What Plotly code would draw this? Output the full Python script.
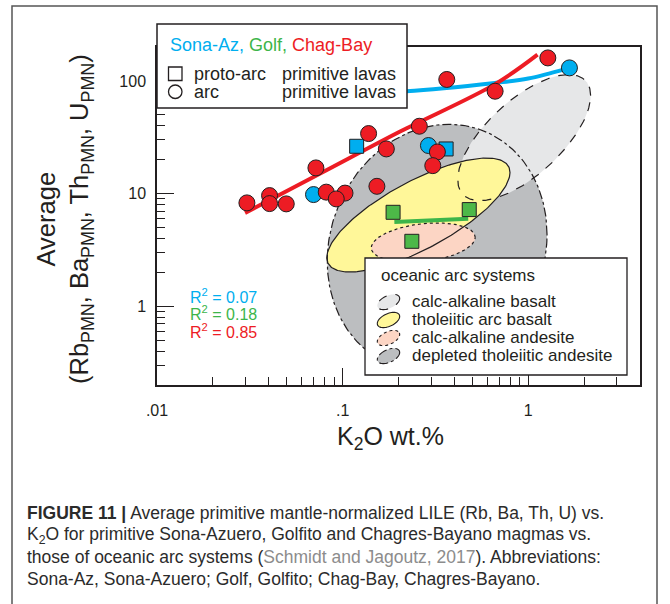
import numpy as np
import plotly.graph_objects as go

# ---------------- data ----------------
# Chagres-Bayano arc primitive lavas: K2O (wt.%) and average PMN LILE
chag_k2o = [1.275, 0.364, 0.663, 0.259, 0.138, 0.172, 0.324, 0.306, 0.0718,
            0.153, 0.0816, 0.103, 0.0924, 0.0404, 0.0404, 0.0305, 0.0497]
chag_lile = [160, 103, 81, 39.6, 34.1, 24.9, 23.4, 17.7, 16.9,
             11.6, 10.3, 10.1, 8.97, 9.6, 8.15, 8.27, 8.1]

# Sona-Azuero: arc (circles) and proto-arc (squares) primitive lavas
sona_arc_k2o = [0.0697, 0.290, 1.667]
sona_arc_lile = [9.8, 26.7, 130.5]
sona_proto_k2o = [0.119, 0.361]
sona_proto_lile = [26.3, 24.9]

# Golfito proto-arc primitive lavas
golf_proto_k2o = [0.187, 0.481, 0.236]
golf_proto_lile = [6.82, 7.21, 3.77]

# regression curves
sona_fit_k2o = [0.07, 0.22, 0.66, 1.0, 1.6]
sona_fit_lile = [77, 81, 96, 105, 128]
golf_fit_k2o = [0.19, 0.475]
golf_fit_lile = [5.6, 5.97]
chag_fit_k2o = [0.0298, 0.0757, 0.204, 0.663, 1.122]
chag_fit_lile = [6.74, 15.05, 35.5, 93.7, 171]

r2_labels = ["R<sup>2</sup> = 0.07", "R<sup>2</sup> = 0.18", "R<sup>2</sup> = 0.85"]

# oceanic arc system fields: centre K2O, centre LILE,
# half-width (decades), conjugate slope, half-height (decades)
field_names = ["depleted tholeiitic andesite", "calc-alkaline basalt",
               "tholeiitic arc basalt", "calc-alkaline andesite"]
field_k2o = [0.323, 0.951, 0.256, 0.272]
field_lile = [3.3, 31.4, 6.45, 3.67]
field_halfwidth = [0.592, 0.358, 0.4935, 0.28]
field_slope = [0.2, 1.041, 0.7646, 0.165]
field_halfheight = [1.09, 0.417, 0.337, 0.169]

legend_fields = ["calc-alkaline basalt", "tholeiitic arc basalt",
                 "calc-alkaline andesite", "depleted tholeiitic andesite"]

# ---------------- styles ----------------
BLUE = "#00AEEF"
GREEN = "#3DB54A"
RED = "#ED1C24"
INK = "#231F20"
field_style = {
    "depleted tholeiitic andesite": dict(fill="#BCBEC0", dash="dashdot"),
    "calc-alkaline basalt": dict(fill="#E6E7E8", dash="dash"),
    "tholeiitic arc basalt": dict(fill="#FFF799", dash="solid"),
    "calc-alkaline andesite": dict(fill="#FCD5C4", dash="dot"),
}

W, H = 670, 604
L, R, T, B = 157, 640, 47, 385


def px_x(px):
    return (px - L) / (R - L)


def px_y(py):
    return (B - py) / (B - T)


fig = go.Figure()

# field outlines in log space
t = np.linspace(0, 2 * np.pi, 241)
outlines = {}
for name, cx, cy, hw, sl, hh in zip(field_names, field_k2o, field_lile,
                                    field_halfwidth, field_slope, field_halfheight):
    lx = np.log10(cx) + hw * np.cos(t)
    ly = np.log10(cy) + sl * hw * np.cos(t) + hh * np.sin(t)
    outlines[name] = (10 ** lx, 10 ** ly)

for name in field_names:
    xs, ys = outlines[name]
    fig.add_trace(go.Scatter(x=xs, y=ys, mode="lines", fill="toself",
                             fillcolor=field_style[name]["fill"],
                             line=dict(width=0), hoverinfo="skip",
                             showlegend=False))
for name in field_names:
    xs, ys = outlines[name]
    fig.add_trace(go.Scatter(x=xs, y=ys, mode="lines",
                             line=dict(color=INK, width=1.2,
                                       dash=field_style[name]["dash"]),
                             hoverinfo="skip", showlegend=False))

# regression curves
fig.add_trace(go.Scatter(x=sona_fit_k2o, y=sona_fit_lile, mode="lines",
                         line=dict(color=BLUE, width=4, shape="spline"),
                         showlegend=False))
fig.add_trace(go.Scatter(x=golf_fit_k2o, y=golf_fit_lile, mode="lines",
                         line=dict(color=GREEN, width=4),
                         showlegend=False))
fig.add_trace(go.Scatter(x=chag_fit_k2o, y=chag_fit_lile, mode="lines",
                         line=dict(color=RED, width=4, shape="spline"),
                         showlegend=False))

# samples
mline = dict(color=INK, width=1)
fig.add_trace(go.Scatter(x=sona_arc_k2o, y=sona_arc_lile, mode="markers",
                         marker=dict(symbol="circle", size=16, color=BLUE, line=mline),
                         showlegend=False))
fig.add_trace(go.Scatter(x=sona_proto_k2o, y=sona_proto_lile, mode="markers",
                         marker=dict(symbol="square", size=14, color=BLUE, line=mline),
                         showlegend=False))
fig.add_trace(go.Scatter(x=golf_proto_k2o, y=golf_proto_lile, mode="markers",
                         marker=dict(symbol="square", size=14, color="#4DB848", line=mline),
                         showlegend=False))
fig.add_trace(go.Scatter(x=chag_k2o, y=chag_lile, mode="markers",
                         marker=dict(symbol="circle", size=16, color=RED, line=mline),
                         showlegend=False))

shapes = []
annotations = []


def text(px, py, s, size=16, color=INK, anchor="left", **kw):
    annotations.append(dict(x=px_x(px), y=px_y(py), xref="paper", yref="paper",
                            text=s, showarrow=False, xanchor=anchor,
                            yanchor="middle", font=dict(size=size, color=color),
                            **kw))


# outer figure frame
fx0, fx1, fy0, fy1 = px_x(12), px_x(657), px_y(6), px_y(610)
shapes.append(dict(type="path", xref="paper", yref="paper",
                   path=f"M {fx0},{fy1} L {fx0},{fy0} L {fx1},{fy0} L {fx1},{fy1}",
                   line=dict(color="#555555", width=1.5), layer="above"))

# symbol legend box
shapes.append(dict(type="rect", xref="paper", yref="paper",
                   x0=px_x(157), x1=px_x(407), y0=px_y(108), y1=px_y(24),
                   fillcolor="white", line=dict(color=INK, width=1.5), layer="above"))
shapes.append(dict(type="rect", xref="paper", yref="paper",
                   x0=px_x(168.5), x1=px_x(182), y0=px_y(80.5), y1=px_y(67),
                   fillcolor="white", line=dict(color=INK, width=1.3), layer="above"))
shapes.append(dict(type="circle", xref="paper", yref="paper",
                   x0=px_x(168.5), x1=px_x(182), y0=px_y(98.5), y1=px_y(85),
                   fillcolor="white", line=dict(color=INK, width=1.3), layer="above"))
text(168, 45, f'<span style="color:{BLUE}">Sona-Az,</span> '
              f'<span style="color:{GREEN}">Golf,</span> '
              f'<span style="color:{RED}">Chag-Bay</span>', size=18)
text(192, 73.5, "proto-arc", size=18)
text(192, 92, "arc", size=18)
text(280, 73.5, "primitive lavas", size=18)
text(280, 92, "primitive lavas", size=18)

# oceanic arc systems legend box
shapes.append(dict(type="rect", xref="paper", yref="paper",
                   x0=px_x(365), x1=px_x(627), y0=px_y(375), y1=px_y(258),
                   fillcolor="white", line=dict(color=INK, width=1.3), layer="above"))
text(379, 275, "oceanic arc systems", size=17)
row_y = [301, 319, 337, 355]
ang = np.deg2rad(25)
tt = np.linspace(0, 2 * np.pi, 60)
for name, ry in zip(legend_fields, row_y):
    ex = 388.5 + 12 * np.cos(tt) * np.cos(ang) + 6.3 * np.sin(tt) * np.sin(ang)
    ey = ry + 1 - 12 * np.cos(tt) * np.sin(ang) + 6.3 * np.sin(tt) * np.cos(ang)
    path = "M " + " L ".join(f"{px_x(a):.5f},{px_y(b):.5f}" for a, b in zip(ex, ey)) + " Z"
    shapes.append(dict(type="path", xref="paper", yref="paper", path=path,
                       fillcolor=field_style[name]["fill"],
                       line=dict(color=INK, width=1.1, dash=field_style[name]["dash"]),
                       layer="above"))
    text(410, ry, name, size=17)

# goodness of fit
for lab, col, ry in zip(r2_labels, [BLUE, GREEN, RED], [296, 313, 331]):
    text(188, ry, lab, size=16, color=col)

# axis titles
text(390, 438, "K<sub>2</sub>O wt.%", size=25, anchor="center")
annotations.append(dict(x=px_x(65), y=px_y(219), xref="paper", yref="paper",
                        text="Average<br>(Rb<sub>PMN</sub>, Ba<sub>PMN</sub>, "
                             "Th<sub>PMN</sub>, U<sub>PMN</sub>)",
                        textangle=-90, showarrow=False, xanchor="center",
                        yanchor="middle", font=dict(size=25.5, color=INK)))

# caption
cap = [
    "<b>FIGURE 11 |</b> Average primitive mantle-normalized LILE (Rb, Ba, Th, U) vs.",
    "K<sub>2</sub>O for primitive Sona-Azuero, Golfito and Chagres-Bayano magmas vs.",
    'those of oceanic arc systems (<span style="color:#8C8C8C">Schmidt and Jagoutz, 2017</span>). Abbreviations:',
    "Sona-Az, Sona-Azuero; Golf, Golfito; Chag-Bay, Chagres-Bayano.",
]
for line, ry in zip(cap, [513, 535, 557, 579]):
    text(25, ry, line, size=17.5, color="#2B2B2B")

x_minor = [0.02, 0.03, 0.04, 0.05, 0.06, 0.07, 0.08, 0.09,
           0.2, 0.3, 0.4, 0.5, 0.6, 0.7, 0.8, 0.9, 2, 3, 4]
y_minor = [0.3, 0.4, 0.5, 0.6, 0.7, 0.8, 0.9, 2, 3, 4, 5, 6, 7, 8, 9,
           20, 30, 40, 50, 60, 70, 80, 90, 200]

axis_common = dict(type="log", showline=True, linecolor=INK, linewidth=1.5,
                   mirror=True, ticks="inside", ticklen=17, tickwidth=1.3,
                   tickcolor=INK, showgrid=False, zeroline=False,
                   tickfont=dict(size=16, color=INK))
fig.update_layout(
    width=W, height=H,
    margin=dict(l=L, r=W - R, t=T, b=H - B),
    paper_bgcolor="white", plot_bgcolor="white",
    font=dict(family="Liberation Sans, Arial, sans-serif", color=INK),
    showlegend=False,
    xaxis=dict(range=[-2, np.log10(4)], tickmode="array",
               tickvals=[0.01, 0.1, 1], ticktext=[".01", ".1", "1"],
               ticklabelstandoff=10,
               minor=dict(tickmode="array", tickvals=x_minor, ticks="inside",
                          ticklen=8, tickwidth=1.3, tickcolor=INK, showgrid=False),
               **axis_common),
    yaxis=dict(range=[np.log10(0.2), np.log10(200)], tickmode="array",
               tickvals=[1, 10, 100], ticktext=["1", "10", "100"],
               ticklabelstandoff=6,
               minor=dict(tickmode="array", tickvals=y_minor, ticks="inside",
                          ticklen=8, tickwidth=1.3, tickcolor=INK, showgrid=False),
               **axis_common),
    shapes=shapes,
    annotations=annotations,
)

fig.write_html("out.html")
